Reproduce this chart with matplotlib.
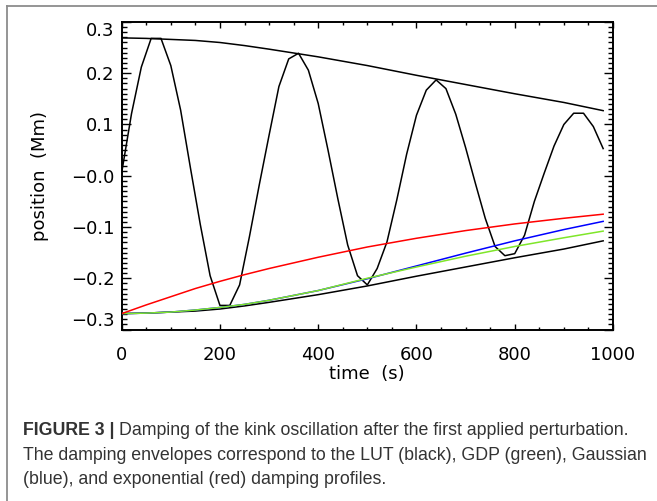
import numpy as np
import matplotlib
matplotlib.use("Agg")
import matplotlib.pyplot as plt
from matplotlib.lines import Line2D
from matplotlib.ticker import FixedLocator, MultipleLocator

plt.rcParams.update({
    "font.family": "DejaVu Sans",
    "font.size": 13,
})

# ---------------------------------------------------------
#  Data
# ---------------------------------------------------------
# kink oscillation, sampled every 20 s
time_s = [0, 20, 40, 60, 80, 100, 120, 140, 160, 180,
          200, 220, 240, 260, 280, 300, 320, 340, 360, 380,
          400, 420, 440, 460, 480, 500, 520, 540, 560, 580,
          600, 620, 640, 660, 680, 700, 720, 740, 760, 780,
          800, 820, 840, 860, 880, 900, 920, 940, 960, 980]
position = [0.006, 0.121, 0.212, 0.268, 0.268, 0.215, 0.128, 0.015, -0.095, -0.195,
            -0.253, -0.253, -0.213, -0.119, -0.018, 0.079, 0.174, 0.228, 0.239, 0.206,
            0.141, 0.050, -0.045, -0.135, -0.195, -0.213, -0.181, -0.129, -0.047, 0.042,
            0.118, 0.167, 0.187, 0.170, 0.120, 0.055, -0.015, -0.083, -0.138, -0.156,
            -0.152, -0.116, -0.050, 0.005, 0.058, 0.100, 0.122, 0.122, 0.096, 0.053]

# damping envelopes
env_time = [0, 50, 100, 150, 200, 250, 300, 400, 500, 600, 700, 800, 900, 980]
lut_env = [0.269, 0.268, 0.266, 0.264, 0.260, 0.254, 0.247, 0.232, 0.215,
           0.196, 0.178, 0.160, 0.143, 0.127]
gdp_env = [-0.269, -0.268, -0.266, -0.262, -0.257, -0.251, -0.243, -0.224,
           -0.200, -0.178, -0.157, -0.138, -0.121, -0.108]
gauss_env = [-0.269, -0.268, -0.266, -0.262, -0.257, -0.251, -0.243, -0.224,
             -0.201, -0.176, -0.151, -0.127, -0.105, -0.089]
exp_env = [-0.269, -0.252, -0.236, -0.220, -0.206, -0.193, -0.181, -0.159,
           -0.139, -0.122, -0.107, -0.094, -0.083, -0.075]

y_ticks = [-0.3, -0.2, -0.1, 0.0, 0.1, 0.2, 0.3]
y_tick_labels = ["\u22120.3", "\u22120.2", "\u22120.1", "\u22120.0", "0.1", "0.2", "0.3"]
x_ticks = [0, 200, 400, 600, 800, 1000]

# ---------------------------------------------------------
#  Figure / axes
# ---------------------------------------------------------
fig = plt.figure(figsize=(6.57, 5.01), dpi=100)
ax = fig.add_axes([0.1852, 0.3423, 0.7478, 0.6138])

ax.plot(time_s, position, color="black", lw=1.1, zorder=3)
ax.plot(env_time, lut_env, color="black", lw=1.1, zorder=3)
ax.plot(env_time, -np.array(lut_env), color="black", lw=1.1, zorder=3)
ax.plot(env_time, gauss_env, color="#0000ff", lw=1.1, zorder=4)
ax.plot(env_time, gdp_env, color="#7fe62a", lw=1.1, zorder=5)
ax.plot(env_time, exp_env, color="#ff0000", lw=1.1, zorder=6)

ax.set_xlim(0, 1000)
ax.set_ylim(-0.3, 0.3)

ax.xaxis.set_major_locator(FixedLocator(x_ticks))
ax.xaxis.set_minor_locator(MultipleLocator(50))
ax.yaxis.set_major_locator(FixedLocator(y_ticks))
ax.yaxis.set_minor_locator(MultipleLocator(0.01))
ax.set_yticklabels(y_tick_labels)

ax.tick_params(axis="both", which="both", direction="in",
               top=True, right=True, width=1.0, color="black")
ax.tick_params(axis="x", which="major", length=4.3, pad=12, labelsize=13)
ax.tick_params(axis="x", which="minor", length=2.2)
ax.tick_params(axis="y", which="major", length=6.5, pad=5, labelsize=13)
ax.tick_params(axis="y", which="minor", length=3.6)

# end labels sit inside the axis range
ylabels = ax.get_yticklabels()
ylabels[0].set_va("bottom")
ylabels[-1].set_va("top")

for s in ax.spines.values():
    s.set_linewidth(1.4)

fig.text(40 / 657, 1 - 176 / 501, "position  (Mm)", rotation=90,
         ha="center", va="center", fontsize=13)
fig.text(367 / 657, 1 - 374 / 501, "time  (s)",
         ha="center", va="center", fontsize=13)

# ---------------------------------------------------------
#  Outer frame (top and left edges visible)
# ---------------------------------------------------------
frame_col = "#8c8c8c"
fig.add_artist(Line2D([7 / 657, 1.0], [1 - 6 / 501, 1 - 6 / 501],
                      transform=fig.transFigure, color=frame_col, lw=1.3))
fig.add_artist(Line2D([7 / 657, 7 / 657], [0.0, 1 - 6 / 501],
                      transform=fig.transFigure, color=frame_col, lw=1.3))

# ---------------------------------------------------------
#  Caption
# ---------------------------------------------------------
cap_col = "#333333"
cap_font = "Liberation Sans"
cap_size = 12.75
x0 = 23 / 657
bold = fig.text(x0, 1 - 435 / 501, "FIGURE 3 | ", fontsize=cap_size,
                weight="bold", family=cap_font, color=cap_col, va="baseline")
fig.canvas.draw()
bb = bold.get_window_extent(renderer=fig.canvas.get_renderer())
fig.text(bb.x1 / fig.bbox.width, 1 - 435 / 501,
         "Damping of the kink oscillation after the first applied perturbation.",
         fontsize=cap_size, family=cap_font, color=cap_col, va="baseline")
fig.text(x0, 1 - 459.5 / 501,
         "The damping envelopes correspond to the LUT (black), GDP (green), Gaussian",
         fontsize=cap_size, family=cap_font, color=cap_col, va="baseline")
fig.text(x0, 1 - 484 / 501,
         "(blue), and exponential (red) damping profiles.",
         fontsize=cap_size, family=cap_font, color=cap_col, va="baseline")

fig.savefig("out.png", dpi=100)
plt.close(fig)
